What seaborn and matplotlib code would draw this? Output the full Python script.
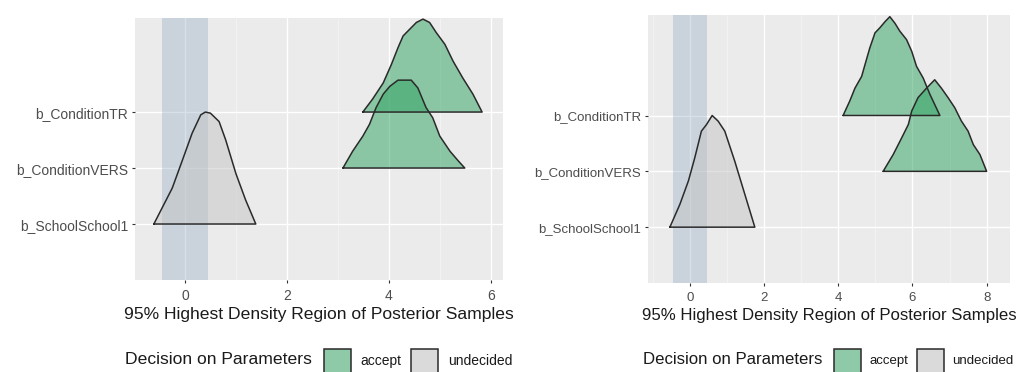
import matplotlib
matplotlib.use("Agg")
import matplotlib.pyplot as plt
from matplotlib.patches import Rectangle
from matplotlib.ticker import MultipleLocator
import pandas as pd
import seaborn as sns

# Parameters, bottom row first
parameters = ["b_SchoolSchool1", "b_ConditionVERS", "b_ConditionTR"]
decision = {"b_SchoolSchool1": "undecided",
            "b_ConditionVERS": "accept",
            "b_ConditionTR": "accept"}
legend_levels = ["accept", "undecided"]
rope = (-0.45, 0.45)

# Model 1: truncated (95% HDR) posterior density profiles, heights in row units
m1_school_x = [-0.61, -0.25, -0.05, 0.14, 0.31, 0.40, 0.50, 0.67, 0.80, 1.00, 1.19, 1.39]
m1_school_h = [0.0, 0.64, 1.14, 1.62, 1.95, 2.0, 1.98, 1.83, 1.50, 0.90, 0.43, 0.0]
m1_vers_x = [3.10, 3.29, 3.49, 3.62, 3.75, 3.89, 4.02, 4.18, 4.44, 4.57, 4.73, 4.86, 5.00, 5.20, 5.36, 5.49]
m1_vers_h = [0.0, 0.30, 0.57, 0.78, 1.08, 1.32, 1.46, 1.57, 1.57, 1.43, 1.08, 0.90, 0.57, 0.30, 0.13, 0.0]
m1_tr_x = [3.49, 3.68, 3.89, 4.05, 4.18, 4.28, 4.41, 4.54, 4.67, 4.80, 4.93, 5.10, 5.26, 5.45, 5.65, 5.83]
m1_tr_h = [0.0, 0.23, 0.52, 0.85, 1.15, 1.36, 1.48, 1.60, 1.66, 1.60, 1.42, 1.21, 0.91, 0.61, 0.32, 0.0]

# Model 2
m2_school_x = [-0.54, -0.27, -0.04, 0.13, 0.31, 0.45, 0.60, 0.76, 0.94, 1.21, 1.48, 1.75]
m2_school_h = [0.0, 0.41, 0.83, 1.24, 1.72, 1.84, 2.0, 1.90, 1.72, 1.18, 0.59, 0.0]
m2_vers_x = [5.21, 5.48, 5.71, 5.89, 5.98, 6.15, 6.38, 6.60, 6.78, 6.96, 7.14, 7.32, 7.50, 7.64, 7.82, 8.00]
m2_vers_h = [0.0, 0.30, 0.60, 0.84, 1.08, 1.32, 1.49, 1.64, 1.49, 1.32, 1.14, 0.90, 0.72, 0.48, 0.30, 0.0]
m2_tr_x = [4.13, 4.31, 4.45, 4.63, 4.72, 4.85, 4.99, 5.12, 5.26, 5.39, 5.53, 5.66, 5.84, 5.98, 6.11, 6.29, 6.47, 6.74]
m2_tr_h = [0.0, 0.26, 0.49, 0.70, 0.91, 1.21, 1.48, 1.57, 1.68, 1.77, 1.65, 1.51, 1.36, 1.15, 0.88, 0.67, 0.38, 0.0]

x_label = "95% Highest Density Region of Posterior Samples"
legend_title = "Decision on Parameters"

fill_colors = {"accept": "#2CA25F", "undecided": "#C4C4C4"}
outline = "#2A2A2A"

sns.set_theme(style="darkgrid")
plt.rcParams["font.family"] = ["Liberation Sans", "DejaVu Sans"]

W, H = 1019, 372
fig = plt.figure(figsize=(W / 100, H / 100), dpi=100)
fig.patch.set_facecolor("white")


def px_axes(x0, y0, x1, y1):
    return fig.add_axes([x0 / W, 1 - y1 / H, (x1 - x0) / W, (y1 - y0) / H])


def ridge_frame(xs, hs, row, name):
    xs = list(xs) + [xs[0]]
    ys = [row + h for h in hs] + [row + hs[0]]
    return pd.DataFrame({"x": xs, "y": ys, "parameter": name})


def draw_panel(ax, profiles, xlim, ylim, xticks, scale):
    ax.set_facecolor("#EBEBEB")
    ax.set_xlim(*xlim)
    ax.set_ylim(*ylim)
    ax.xaxis.set_minor_locator(MultipleLocator(1))
    ax.set_xticks(xticks)
    ax.set_yticks(range(1, len(parameters) + 1))
    ax.set_yticklabels(parameters)
    ax.grid(which="major", color="white", lw=1.0)
    ax.grid(which="minor", axis="x", color="#F6F6F6", lw=0.5)
    ax.set_axisbelow(True)
    for s in ax.spines.values():
        s.set_visible(False)
    ax.tick_params(axis="both", which="major", length=2.5, width=0.8,
                   color="#333333", labelcolor="#4D4D4D",
                   labelsize=10 * scale, pad=2.5, bottom=True, left=True)
    ax.tick_params(axis="x", which="minor", length=0)
    ax.tick_params(axis="x", pad=4)
    # region of practical equivalence
    ax.axvspan(rope[0], rope[1], color="#8FA9C2", alpha=0.35, lw=0, zorder=0.8)
    # ridges drawn from top row downward so lower rows sit on top
    for name in reversed(parameters):
        xs, hs = profiles[name]
        row = parameters.index(name) + 1
        df = ridge_frame(xs, hs, row, name)
        ax.fill(df["x"], df["y"], color=fill_colors[decision[name]],
                alpha=0.5, lw=0, zorder=2)
        sns.lineplot(data=df, x="x", y="y", sort=False, estimator=None,
                     color=outline, lw=1.1, ax=ax, zorder=3, legend=False)
    ax.set_xlabel(x_label, fontsize=12.6 * scale, color="#1A1A1A", labelpad=3)
    ax.set_ylabel("")


def draw_legend(title_x, keys_x, labels_x, scale):
    fig.text(title_x / W, 1 - 360 / H, legend_title, fontsize=12.6 * scale,
             color="#1A1A1A", va="center", ha="left")
    for lvl, kx, lx in zip(legend_levels, keys_x, labels_x):
        box = (kx / W, 1 - 376 / H)
        fig.add_artist(Rectangle(box, 27 / W, 27 / H, transform=fig.transFigure,
                                 facecolor="#F2F2F2", edgecolor="none"))
        fig.add_artist(Rectangle(box, 27 / W, 27 / H, transform=fig.transFigure,
                                 facecolor=fill_colors[lvl], alpha=0.5,
                                 edgecolor="none"))
        fig.add_artist(Rectangle(box, 27 / W, 27 / H, transform=fig.transFigure,
                                 facecolor="none", edgecolor=outline, lw=1.1))
        fig.text(lx / W, 1 - 361 / H, lvl, fontsize=10 * scale,
                 color="#1A1A1A", va="center", ha="left")


ax1 = px_axes(135, 18, 503, 280)
draw_panel(ax1,
           {"b_SchoolSchool1": (m1_school_x, m1_school_h),
            "b_ConditionVERS": (m1_vers_x, m1_vers_h),
            "b_ConditionTR": (m1_tr_x, m1_tr_h)},
           xlim=(-0.98, 6.24), ylim=(0.0, 4.68), xticks=[0, 2, 4, 6], scale=1.0)
draw_legend(125, [324, 411], [360, 448], scale=1.0)

ax2 = px_axes(648, 15, 1010, 283)
draw_panel(ax2,
           {"b_SchoolSchool1": (m2_school_x, m2_school_h),
            "b_ConditionVERS": (m2_vers_x, m2_vers_h),
            "b_ConditionTR": (m2_tr_x, m2_tr_h)},
           xlim=(-1.13, 8.63), ylim=(0.0, 4.80), xticks=[0, 2, 4, 6, 8], scale=0.955)
draw_legend(643, [834, 917], [869, 952], scale=0.955)

fig.savefig("out.png", dpi=100, facecolor="white")
